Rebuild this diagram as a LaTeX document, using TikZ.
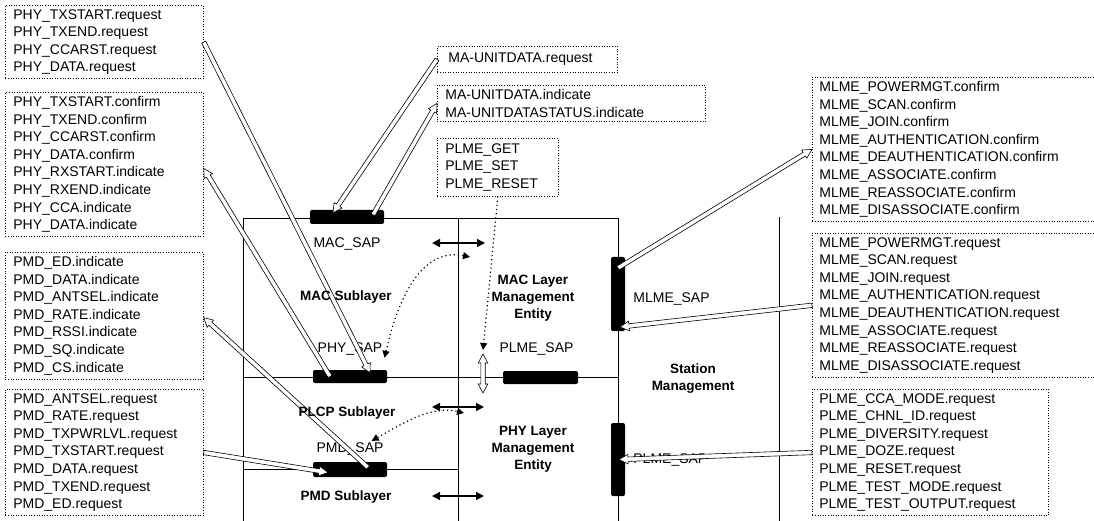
\documentclass[tikz,border=0pt]{standalone}
\usepackage{fontspec}
\setmainfont{Liberation Sans}
\usetikzlibrary{arrows.meta, calc, positioning}

\newcommand\listfont{\fontsize{14}{17.6}\selectfont}
\newcommand\tagfont{\fontsize{14}{17}\selectfont}
\newcommand\layerfont{\fontsize{13.5}{17}\selectfont\bfseries}

% hollow (white) arrow, tip at #2
\newcommand\hollowto[2]{%
  \coordinate (ha-b) at ($(#2)!9pt!(#1)$);
  \draw[hollow] ($(#1)!2.2pt!90:(#2)$) -- ($(ha-b)!2.2pt!90:(#2)$)
    -- ($(ha-b)!4.8pt!90:(#2)$) -- (#2) -- ($(ha-b)!4.8pt!-90:(#2)$)
    -- ($(ha-b)!2.2pt!-90:(#2)$) -- ($(#1)!2.2pt!-90:(#2)$) -- cycle;}
% hollow arrow with tips at both ends
\newcommand\hollowboth[2]{%
  \coordinate (ha-a) at ($(#1)!9pt!(#2)$);
  \coordinate (ha-b) at ($(#2)!9pt!(#1)$);
  \draw[hollow] (#1) -- ($(ha-a)!4.8pt!90:(#2)$) -- ($(ha-a)!2.2pt!90:(#2)$)
    -- ($(ha-b)!2.2pt!90:(#2)$) -- ($(ha-b)!4.8pt!90:(#2)$) -- (#2)
    -- ($(ha-b)!4.8pt!-90:(#2)$) -- ($(ha-b)!2.2pt!-90:(#2)$)
    -- ($(ha-a)!2.2pt!-90:(#2)$) -- ($(ha-a)!4.8pt!-90:(#2)$) -- cycle;}

\begin{document}
\begin{tikzpicture}[
  x=1pt, y=-1pt,
  listbox/.style={draw, dash pattern=on 0.8pt off 1.8pt, line width=0.7pt,
    align=left, anchor=north west, inner xsep=8pt, inner ysep=4pt, font=\listfont},
  sapbar/.style={fill=black, rounded corners=2pt, inner sep=0pt},
  saplabel/.style={font=\tagfont, inner sep=2pt},
  layer/.style={font=\layerfont, align=center, inner sep=2pt},
  frame/.style={line width=0.6pt},
  hollow/.style={draw=black, fill=white, line width=0.6pt, line join=miter},
  blkarrow/.style={{Triangle[length=8pt,width=8pt]}-{Triangle[length=8pt,width=8pt]}, line width=1.6pt},
  dotarrow/.style={dash pattern=on 1.2pt off 3pt, line width=1.2pt, -{Triangle[length=7pt,width=7pt]}},
  dotboth/.style={dotarrow, {Triangle[length=7pt,width=7pt]}-{Triangle[length=7pt,width=7pt]}}
]
\useasboundingbox (0,0) rectangle (1094,521);
\clip (0,0) rectangle (1094,521);

% layer frame
\draw[frame] (243,525) -- (243,218) -- (618,218) -- (618,525);
\draw[frame] (458,218) -- (458,525);
\draw[frame] (779,217) -- (779,525);
\draw[frame] (243,377) -- (618,377);
\draw[frame] (243,469) -- (458,469);

% service access points
\node[sapbar, minimum width=74pt, minimum height=14pt] (macsap) at (347,217) {};
\node[sapbar, minimum width=74pt, minimum height=13pt] (physap) at (350,376.5) {};
\node[sapbar, minimum width=74pt, minimum height=15pt] (pmdsap) at (350,469.5) {};
\node[sapbar, minimum width=75pt, minimum height=13pt] (plmesap) at (540.5,377.5) {};
\node[sapbar, minimum width=14pt, minimum height=74pt] (mlmesap) at (618,294) {};
\node[sapbar, minimum width=14pt, minimum height=73pt] (plmesapr) at (618,459.5) {};

% primitive lists
\node[listbox, text width=182pt] (phyreq) at (5,5)
  {PHY\_TXSTART.request\\PHY\_TXEND.request\\PHY\_CCARST.request\\PHY\_DATA.request};
\node[listbox, text width=182pt] (phycnf) at (5,92)
  {PHY\_TXSTART.confirm\\PHY\_TXEND.confirm\\PHY\_CCARST.confirm\\PHY\_DATA.confirm\\
   PHY\_RXSTART.indicate\\PHY\_RXEND.indicate\\PHY\_CCA.indicate\\PHY\_DATA.indicate};
\node[listbox, text width=182pt] (pmdind) at (5,252)
  {PMD\_ED.indicate\\PMD\_DATA.indicate\\PMD\_ANTSEL.indicate\\PMD\_RATE.indicate\\
   PMD\_RSSI.indicate\\PMD\_SQ.indicate\\PMD\_CS.indicate};
\node[listbox, text width=182pt] (pmdreq) at (5,389)
  {PMD\_ANTSEL.request\\PMD\_RATE.request\\PMD\_TXPWRLVL.request\\PMD\_TXSTART.request\\
   PMD\_DATA.request\\PMD\_TXEND.request\\PMD\_ED.request};
\node[listbox, text width=158pt, inner xsep=11pt, minimum height=26pt] (udareq) at (437,46)
  {MA-UNITDATA.request};
\node[listbox, text width=252pt] (udaind) at (437,85)
  {MA-UNITDATA.indicate\\MA-UNITDATASTATUS.indicate};
\node[listbox, text width=105pt, inner ysep=5pt] (plmeget) at (437,138)
  {PLME\_GET\\PLME\_SET\\PLME\_RESET};
\node[listbox, text width=290pt, inner xsep=7pt] (mlmecnf) at (812,77)
  {MLME\_POWERMGT.confirm\\MLME\_SCAN.confirm\\MLME\_JOIN.confirm\\MLME\_AUTHENTICATION.confirm\\
   MLME\_DEAUTHENTICATION.confirm\\MLME\_ASSOCIATE.confirm\\MLME\_REASSOCIATE.confirm\\MLME\_DISASSOCIATE.confirm};
\node[listbox, text width=290pt, inner xsep=7pt] (mlmereq) at (812,233)
  {MLME\_POWERMGT.request\\MLME\_SCAN.request\\MLME\_JOIN.request\\MLME\_AUTHENTICATION.request\\
   MLME\_DEAUTHENTICATION.request\\MLME\_ASSOCIATE.request\\MLME\_REASSOCIATE.request\\MLME\_DISASSOCIATE.request};
\node[listbox, text width=222pt, inner xsep=7pt] (plmereq) at (812,389)
  {PLME\_CCA\_MODE.request\\PLME\_CHNL\_ID.request\\PLME\_DIVERSITY.request\\PLME\_DOZE.request\\
   PLME\_RESET.request\\PLME\_TEST\_MODE.request\\PLME\_TEST\_OUTPUT.request};

% labels of the access points
\node[saplabel, below=11pt of macsap] (macsaplbl) {MAC\_SAP};
\node[saplabel, above=12pt of physap] (physaplbl) {PHY\_SAP};
\node[saplabel, above=4pt of pmdsap] (pmdsaplbl) {PMD\_SAP};
\node[saplabel, above=13pt of plmesap, xshift=-4pt] (plmesaplbl) {PLME\_SAP};
\node[saplabel, right=6pt of mlmesap, yshift=-5pt] (mlmesaplbl) {MLME\_SAP};
\node[saplabel, right=6pt of plmesapr, yshift=-1pt] (plmesaprlbl) {PLME\_SAP};

% end points
\coordinate (macsap-in) at ([xshift=-14pt, yshift=-3pt]macsap.north);
\coordinate (macsap-out) at ([xshift=26pt, yshift=-5pt]macsap.north);
\coordinate (physap-in) at ([xshift=20pt, yshift=-3pt]physap.north);
\coordinate (physap-out) at ([xshift=-20pt]physap.center);
\coordinate (phycnf-in) at ([yshift=-4pt]phycnf.east);
\coordinate (pmdsap-out) at ([xshift=18pt, yshift=2pt]pmdsap.center);
\coordinate (pmdind-in) at ([yshift=-2pt]pmdind.east);
\coordinate (pmdsap-in) at ([xshift=-22pt, yshift=-3pt]pmdsap.center);
\coordinate (mlmesap-out) at ([yshift=26pt]mlmesap.center);
\coordinate (mlmesap-in) at ([xshift=2pt, yshift=-33pt]mlmesap.center);
\coordinate (plmesapr-in) at ([xshift=1pt]plmesapr.center);
\coordinate (lme-up) at (483,354);
\coordinate (lme-dn) at (483,393);
\coordinate (macL) at (432,243);
\coordinate (macR) at (485,243);
\coordinate (plcpL) at (432,407);
\coordinate (plcpR) at (484,407);
\coordinate (pmdL) at (432,496);
\coordinate (pmdR) at (484,496);
\coordinate (maclme-in) at (470,257);
\coordinate (phylme-in) at (464,413);

% primitives
\hollowto{udareq.west}{macsap-in}
\hollowto{macsap-out}{udaind.west}
\hollowto{phyreq.east}{physap-in}
\hollowto{physap-out}{phycnf-in}
\hollowto{pmdsap-out}{pmdind-in}
\hollowto{pmdreq.east}{pmdsap-in}
\hollowto{mlmesap-out}{mlmecnf.west}
\hollowto{mlmereq.west}{mlmesap-in}
\hollowto{plmereq.west}{plmesapr-in}
\hollowboth{lme-up}{lme-dn}

% management links
\draw[blkarrow] (macL) -- (macR);
\draw[blkarrow] (plcpL) -- (plcpR);
\draw[blkarrow] (pmdL) -- (pmdR);
\draw[dotarrow] (plmeget.south) -- ([yshift=4pt]lme-up);
\draw[dotboth] (physaplbl.south east) .. controls (400,290) and (425,248) .. (maclme-in);
\draw[dotboth] ([xshift=-14pt]pmdsaplbl.north east) .. controls (400,425) and (430,405) .. (phylme-in);

% layers
\node[layer] (macsub) at (346,297) {MAC Sublayer};
\node[layer] (plcpsub) at (347,413) {PLCP Sublayer};
\node[layer] (pmdsub) at (346,497) {PMD Sublayer};
\node[layer] (maclme) at (533,298) {MAC Layer\\Management\\Entity};
\node[layer] (phylme) at (533,449) {PHY Layer\\Management\\Entity};
\node[layer] (sta) at (693,379) {Station\\Management};
\end{tikzpicture}
\end{document}
